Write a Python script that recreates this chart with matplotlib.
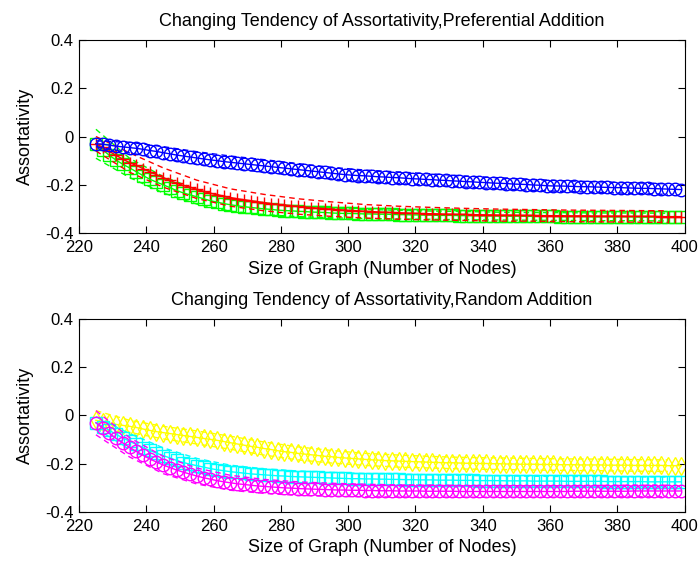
"""Assortativity vs graph size, preferential vs random addition."""

import matplotlib
matplotlib.use("Agg")
import matplotlib.pyplot as plt
import numpy as np

plt.rcParams["font.family"] = ["Liberation Sans", "DejaVu Sans"]

# graph sizes (every second node count)
nodes = list(range(225, 400, 2))

# preferential addition
pref_blue = [
    -0.030, -0.032, -0.036, -0.040, -0.043, -0.046, -0.049, -0.053, -0.058, -0.062,
    -0.067, -0.072, -0.077, -0.081, -0.085, -0.089, -0.093, -0.097, -0.100, -0.104,
    -0.107, -0.110, -0.113, -0.116, -0.119, -0.122, -0.125, -0.128, -0.131, -0.134,
    -0.137, -0.140, -0.143, -0.146, -0.149, -0.152, -0.155, -0.158, -0.160, -0.162,
    -0.163, -0.165, -0.167, -0.168, -0.170, -0.171, -0.173, -0.175, -0.176, -0.178,
    -0.179, -0.181, -0.182, -0.184, -0.185, -0.187, -0.188, -0.190, -0.191, -0.193,
    -0.194, -0.195, -0.197, -0.198, -0.199, -0.201, -0.202, -0.204, -0.205, -0.205,
    -0.206, -0.207, -0.208, -0.208, -0.209, -0.210, -0.211, -0.212, -0.212, -0.213,
    -0.214, -0.215, -0.215, -0.216, -0.217, -0.218, -0.219, -0.220,
]
pref_red = [
    -0.030, -0.045, -0.062, -0.078, -0.094, -0.108, -0.120, -0.133, -0.146, -0.158,
    -0.170, -0.182, -0.194, -0.203, -0.211, -0.219, -0.227, -0.235, -0.241, -0.247,
    -0.253, -0.258, -0.262, -0.266, -0.270, -0.274, -0.278, -0.281, -0.284, -0.287,
    -0.290, -0.292, -0.295, -0.297, -0.299, -0.301, -0.303, -0.305, -0.307, -0.308,
    -0.310, -0.311, -0.313, -0.314, -0.315, -0.316, -0.317, -0.318, -0.319, -0.320,
    -0.320, -0.321, -0.322, -0.322, -0.323, -0.323, -0.324, -0.324, -0.325, -0.325,
    -0.326, -0.326, -0.326, -0.327, -0.327, -0.327, -0.328, -0.328, -0.328, -0.328,
    -0.329, -0.329, -0.329, -0.329, -0.330, -0.330, -0.330, -0.330, -0.330, -0.331,
    -0.331, -0.331, -0.331, -0.331, -0.332, -0.332, -0.332, -0.332,
]
pref_green = [
    -0.030, -0.055, -0.078, -0.098, -0.115, -0.130, -0.146, -0.162, -0.177, -0.189,
    -0.200, -0.212, -0.224, -0.234, -0.242, -0.250, -0.258, -0.266, -0.272, -0.278,
    -0.283, -0.287, -0.291, -0.294, -0.297, -0.300, -0.302, -0.305, -0.307, -0.308,
    -0.310, -0.311, -0.313, -0.314, -0.315, -0.317, -0.318, -0.319, -0.319, -0.320,
    -0.321, -0.321, -0.322, -0.322, -0.323, -0.324, -0.324, -0.325, -0.325, -0.326,
    -0.326, -0.327, -0.327, -0.327, -0.328, -0.328, -0.328, -0.329, -0.329, -0.329,
    -0.330, -0.330, -0.330, -0.330, -0.331, -0.331, -0.331, -0.331, -0.331, -0.332,
    -0.332, -0.332, -0.332, -0.332, -0.333, -0.333, -0.333, -0.333, -0.333, -0.333,
    -0.333, -0.334, -0.334, -0.334, -0.334, -0.334, -0.334, -0.334,
]

# random addition
rand_yellow = [
    -0.020, -0.026, -0.032, -0.037, -0.041, -0.045, -0.050, -0.056, -0.062, -0.067,
    -0.071, -0.075, -0.079, -0.083, -0.087, -0.091, -0.095, -0.099, -0.103, -0.108,
    -0.113, -0.118, -0.123, -0.128, -0.132, -0.137, -0.141, -0.146, -0.150, -0.153,
    -0.157, -0.160, -0.163, -0.166, -0.169, -0.171, -0.174, -0.176, -0.178, -0.180,
    -0.182, -0.184, -0.185, -0.187, -0.188, -0.189, -0.190, -0.191, -0.192, -0.193,
    -0.194, -0.195, -0.196, -0.196, -0.197, -0.198, -0.198, -0.199, -0.199, -0.200,
    -0.200, -0.201, -0.201, -0.202, -0.202, -0.202, -0.203, -0.203, -0.203, -0.204,
    -0.204, -0.204, -0.205, -0.205, -0.205, -0.205, -0.206, -0.206, -0.206, -0.206,
    -0.207, -0.207, -0.207, -0.207, -0.207, -0.208, -0.208, -0.208,
]
rand_cyan = [
    -0.030, -0.046, -0.062, -0.078, -0.093, -0.107, -0.120, -0.133, -0.145, -0.156,
    -0.166, -0.176, -0.186, -0.195, -0.202, -0.208, -0.214, -0.220, -0.225, -0.229,
    -0.233, -0.236, -0.239, -0.242, -0.244, -0.246, -0.248, -0.250, -0.251, -0.253,
    -0.254, -0.255, -0.256, -0.257, -0.258, -0.259, -0.260, -0.261, -0.262, -0.262,
    -0.263, -0.263, -0.264, -0.264, -0.265, -0.265, -0.266, -0.266, -0.267, -0.267,
    -0.267, -0.268, -0.268, -0.268, -0.269, -0.269, -0.269, -0.270, -0.270, -0.270,
    -0.270, -0.271, -0.271, -0.271, -0.271, -0.272, -0.272, -0.272, -0.272, -0.272,
    -0.273, -0.273, -0.273, -0.273, -0.273, -0.273, -0.274, -0.274, -0.274, -0.274,
    -0.274, -0.274, -0.275, -0.275, -0.275, -0.275, -0.275, -0.275,
]
rand_magenta = [
    -0.030, -0.052, -0.074, -0.095, -0.114, -0.132, -0.149, -0.165, -0.180, -0.193,
    -0.205, -0.216, -0.226, -0.235, -0.243, -0.251, -0.258, -0.264, -0.270, -0.275,
    -0.279, -0.283, -0.286, -0.289, -0.292, -0.294, -0.296, -0.298, -0.300, -0.301,
    -0.303, -0.304, -0.305, -0.306, -0.307, -0.308, -0.309, -0.309, -0.310, -0.310,
    -0.311, -0.311, -0.312, -0.312, -0.312, -0.313, -0.313, -0.313, -0.313, -0.314,
    -0.314, -0.314, -0.314, -0.314, -0.315, -0.315, -0.315, -0.315, -0.315, -0.315,
    -0.315, -0.315, -0.315, -0.315, -0.315, -0.315, -0.315, -0.315, -0.315, -0.315,
    -0.315, -0.314, -0.314, -0.314, -0.314, -0.314, -0.314, -0.314, -0.314, -0.314,
    -0.313, -0.313, -0.313, -0.313, -0.313, -0.313, -0.313, -0.313,
]

# spread (half width of dashed bounds), read every 10 nodes from 225
spread_blue = [0.012, 0.022, 0.025, 0.026, 0.026, 0.026, 0.025, 0.024, 0.024,
               0.024, 0.024, 0.023, 0.023, 0.023, 0.022, 0.022, 0.022, 0.022]
spread_red = [0.030, 0.040, 0.040, 0.038, 0.036, 0.034, 0.032, 0.030, 0.028,
              0.027, 0.026, 0.025, 0.025, 0.024, 0.024, 0.024, 0.024, 0.024]
spread_green = [0.060, 0.040, 0.034, 0.030, 0.027, 0.024, 0.022, 0.020, 0.019,
                0.018, 0.017, 0.017, 0.016, 0.016, 0.016, 0.016, 0.016, 0.016]
spread_yellow = [0.040, 0.025, 0.026, 0.027, 0.027, 0.027, 0.027, 0.026, 0.025,
                 0.025, 0.024, 0.024, 0.024, 0.024, 0.024, 0.024, 0.024, 0.024]
spread_cyan = [0.025, 0.032, 0.032, 0.030, 0.027, 0.025, 0.024, 0.023, 0.022,
               0.022, 0.021, 0.021, 0.020, 0.020, 0.020, 0.020, 0.020, 0.020]
spread_magenta = [0.050, 0.040, 0.036, 0.033, 0.031, 0.029, 0.028, 0.027, 0.026,
                  0.025, 0.025, 0.024, 0.024, 0.024, 0.024, 0.024, 0.024, 0.024]

x_ticks = list(range(220, 401, 20))
y_ticks = [-0.4, -0.2, 0, 0.2, 0.4]
y_ticklabels = ["-0.4", "-0.2", "0", "0.2", "0.4"]


def draw_series(ax, y, spread, color, marker):
    x = np.array(nodes)
    y = np.array(y)
    xs = x[::5]
    ys = y[::5]
    sp = np.array(spread)
    for sign in (1, -1):
        ax.plot(xs, ys + sign * sp, color=color, linestyle=(0, (4, 3)), linewidth=1.0)
    ax.plot(x, y, color=color, marker=marker, markersize=9, markeredgewidth=1.0,
            fillstyle="none", linestyle="-", linewidth=1.0)


def style_axes(ax, title):
    ax.set_xlim(220, 400)
    ax.set_ylim(-0.4, 0.4)
    ax.set_xticks(x_ticks)
    ax.set_yticks(y_ticks)
    ax.set_yticklabels(y_ticklabels)
    ax.tick_params(direction="in", length=5, width=0.8, top=True, right=True,
                   labelsize=12)
    ax.tick_params(axis="x", pad=5)
    ax.tick_params(axis="y", pad=4)
    for s in ax.spines.values():
        s.set_linewidth(0.8)
    ax.set_title(title, fontsize=13, pad=10)
    ax.set_xlabel("Size of Graph (Number of Nodes)", fontsize=13, labelpad=4)
    ax.set_ylabel("Assortativity", fontsize=13, labelpad=8)


fig = plt.figure(figsize=(7.0, 5.62), dpi=100)
ax1 = fig.add_axes([0.113, 0.5854, 0.865, 0.3434])
ax2 = fig.add_axes([0.113, 0.0890, 0.865, 0.3434])

draw_series(ax1, pref_green, spread_green, (0, 1, 0), "s")
draw_series(ax1, pref_red, spread_red, (1, 0, 0), "+")
draw_series(ax1, pref_blue, spread_blue, (0, 0, 1), "o")
style_axes(ax1, "Changing Tendency of Assortativity,Preferential Addition")

draw_series(ax2, rand_yellow, spread_yellow, (1, 1, 0), "d")
draw_series(ax2, rand_cyan, spread_cyan, (0, 1, 1), "s")
draw_series(ax2, rand_magenta, spread_magenta, (1, 0, 1), "o")
style_axes(ax2, "Changing Tendency of Assortativity,Random Addition")

fig.savefig("out.png", dpi=100)
